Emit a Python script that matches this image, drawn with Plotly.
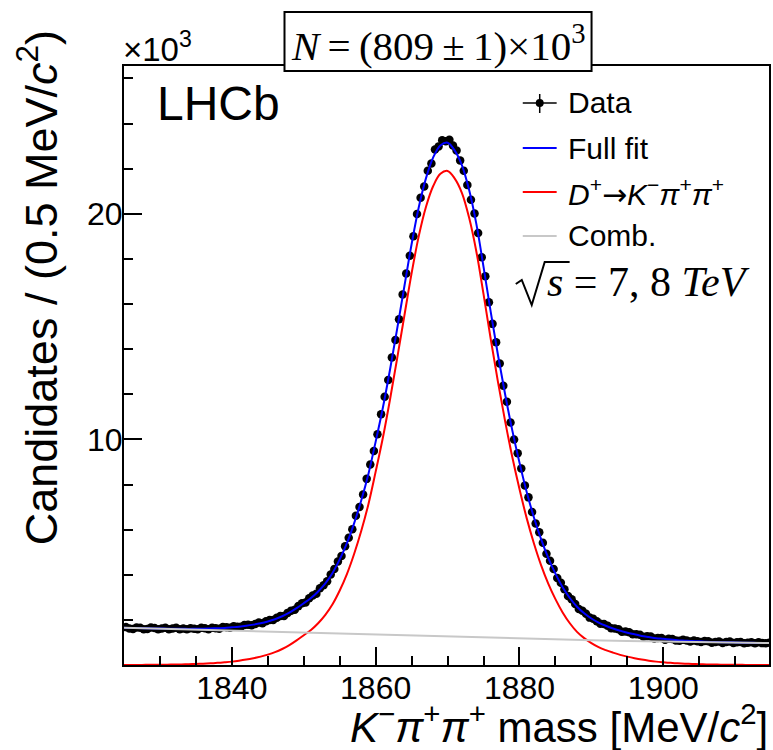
import plotly.graph_objects as go

# ---------------- data (values in units of 10^3 candidates per 0.5 MeV) -------------
bin_centres = [1825.25 + 0.5 * i for i in range(180)]
data_counts = [
    1.68, 1.62, 1.60, 1.66, 1.65, 1.58, 1.60, 1.66, 1.64, 1.59,
    1.62, 1.65, 1.58, 1.62, 1.65, 1.59, 1.62, 1.58, 1.63, 1.61,
    1.59, 1.65, 1.63, 1.59, 1.65, 1.63, 1.61, 1.68, 1.67, 1.65,
    1.72, 1.70, 1.70, 1.77, 1.78, 1.76, 1.82, 1.88, 1.85, 1.94,
    1.99, 2.00, 2.09, 2.17, 2.17, 2.31, 2.41, 2.45, 2.61, 2.74,
    2.77, 2.96, 3.08, 3.16, 3.40, 3.53, 3.71, 4.01, 4.25, 4.59,
    4.83, 5.26, 5.64, 6.02, 6.62, 7.00, 7.56, 8.25, 8.89, 9.49,
    10.23, 11.11, 11.89, 12.63, 13.63, 14.41, 15.32, 16.42, 17.35, 18.14,
    19.00, 19.99, 20.71, 21.21, 21.91, 22.23, 22.85, 22.98, 23.26, 23.22,
    23.28, 23.03, 22.80, 22.36, 21.91, 21.28, 20.62, 20.01, 19.15, 18.07,
    17.23, 16.08, 15.12, 14.31, 13.36, 12.38, 11.67, 10.75, 9.99, 9.39,
    8.71, 7.96, 7.43, 6.78, 6.27, 5.88, 5.42, 4.93, 4.62, 4.25,
    3.86, 3.65, 3.36, 3.06, 2.91, 2.70, 2.48, 2.40, 2.27, 2.10,
    2.05, 1.94, 1.83, 1.82, 1.74, 1.63, 1.62, 1.59, 1.47, 1.48,
    1.45, 1.36, 1.36, 1.34, 1.25, 1.27, 1.26, 1.18, 1.20, 1.20,
    1.12, 1.16, 1.15, 1.09, 1.08, 1.12, 1.09, 1.04, 1.09, 1.05,
    1.02, 1.06, 1.05, 0.99, 1.02, 1.04, 0.98, 1.02, 1.04, 0.98,
    1.01, 1.02, 0.96, 0.99, 1.01, 0.96, 1.01, 0.97, 0.96, 0.99,
]

curve_mass = list(range(1825, 1916))
full_fit = [
    1.65, 1.64, 1.64, 1.63, 1.62, 1.62, 1.61, 1.61, 1.61, 1.60,
    1.61, 1.61, 1.62, 1.63, 1.64, 1.67, 1.70, 1.74, 1.79, 1.85,
    1.93, 2.03, 2.16, 2.32, 2.52, 2.74, 2.97, 3.26, 3.62, 4.08,
    4.68, 5.40, 6.28, 7.30, 8.48, 9.90, 11.40, 13.10, 14.92, 16.80,
    18.66, 20.30, 21.58, 22.50, 23.03, 23.15, 22.80, 22.15, 21.05, 19.55,
    17.65, 15.65, 13.75, 12.00, 10.40, 8.97, 7.67, 6.55, 5.58, 4.75,
    4.05, 3.45, 2.97, 2.58, 2.29, 2.06, 1.88, 1.74, 1.62, 1.52,
    1.43, 1.36, 1.29, 1.24, 1.19, 1.16, 1.13, 1.10, 1.08, 1.06,
    1.05, 1.03, 1.02, 1.01, 1.01, 1.00, 0.99, 0.99, 0.98, 0.98,
    0.97,
]
signal = [
    0.002, 0.003, 0.004, 0.006, 0.008, 0.011, 0.015, 0.020, 0.027, 0.035,
    0.045, 0.06, 0.075, 0.095, 0.12, 0.15, 0.19, 0.24, 0.30, 0.37,
    0.46, 0.57, 0.71, 0.88, 1.09, 1.32, 1.55, 1.85, 2.22, 2.69,
    3.30, 4.03, 4.92, 5.95, 7.14, 8.57, 10.07, 11.78, 13.61, 15.50,
    17.37, 19.02, 20.31, 21.23, 21.77, 21.90, 21.56, 20.92, 19.82, 18.33,
    16.44, 14.45, 12.56, 10.81, 9.22, 7.80, 6.51, 5.40, 4.43, 3.61,
    2.92, 2.33, 1.85, 1.47, 1.19, 0.97, 0.79, 0.66, 0.55, 0.45,
    0.37, 0.30, 0.24, 0.19, 0.15, 0.12, 0.095, 0.075, 0.06, 0.045,
    0.035, 0.027, 0.020, 0.015, 0.011, 0.008, 0.006, 0.004, 0.003, 0.002,
    0.002,
]
bkg_mass = [1825, 1830, 1835, 1840, 1845, 1850, 1855, 1860, 1865, 1870,
            1875, 1880, 1885, 1890, 1895, 1900, 1905, 1910, 1915]
background = [1.65, 1.605, 1.56, 1.515, 1.47, 1.425, 1.38, 1.335, 1.29, 1.25,
              1.21, 1.17, 1.13, 1.095, 1.06, 1.035, 1.01, 0.99, 0.97]

x_tick_vals = [1840, 1860, 1880, 1900]
y_tick_vals = [0, 10, 20]
y_tick_text = ["", "10", "20"]

# ---------------- geometry helpers (pixel -> paper) -----------------
W, H = 773, 750
L, R, T, B = 124, 2, 66, 85
PW, PH = W - L - R, H - T - B


def px(x):
    return (x - L) / PW


def py(y):
    return (H - B - y) / PH


SANS = "Liberation Sans, Arial, Helvetica, sans-serif"
SERIF = "Liberation Serif, Times New Roman, serif"
NB = "\u00a0"
TH = "\u2009"

fig = go.Figure()
fig.add_trace(go.Scatter(x=bin_centres, y=data_counts, mode="markers",
                         marker=dict(color="black", size=8.5), cliponaxis=True))
fig.add_trace(go.Scatter(x=curve_mass, y=full_fit, mode="lines",
                         line=dict(color="#0000ff", width=2, shape="spline")))
fig.add_trace(go.Scatter(x=curve_mass, y=signal, mode="lines",
                         line=dict(color="#ff0000", width=2, shape="spline")))
fig.add_trace(go.Scatter(x=bkg_mass, y=background, mode="lines",
                         line=dict(color="#c8c8c8", width=2)))

axis_common = dict(showline=True, linecolor="black", linewidth=2, mirror=True,
                   ticks="inside", tickcolor="black", tickwidth=2, ticklen=18,
                   showgrid=False, zeroline=False,
                   tickfont=dict(family=SANS, size=32, color="black"))

fig.update_xaxes(range=[1825, 1914.7], tickmode="array", tickvals=x_tick_vals,
                 ticktext=[str(v) for v in x_tick_vals], ticklabelstandoff=-6,
                 minor=dict(dtick=5, tick0=1825, ticklen=9, tickwidth=2,
                            tickcolor="black", ticks="inside"),
                 **axis_common)
fig.update_yaxes(range=[0, 26.55], tickmode="array", tickvals=y_tick_vals,
                 ticktext=y_tick_text, ticklabelstandoff=-7,
                 minor=dict(dtick=2, tick0=0, ticklen=9, tickwidth=2,
                            tickcolor="black", ticks="inside"),
                 **axis_common)

shapes = []
annotations = []

# title box
shapes.append(dict(type="rect", xref="paper", yref="paper",
                   x0=px(285), x1=px(593), y0=py(71), y1=py(12),
                   line=dict(color="black", width=2), fillcolor="white",
                   layer="above"))
annotations.append(dict(xref="paper", yref="paper", x=px(439), y=py(43),
                        text="<i>N</i>" + TH + "=" + TH + "(809" + TH + "±" + TH + "1)×10<sup>3</sup>",
                        showarrow=False, xanchor="center", yanchor="middle",
                        font=dict(family=SERIF, size=41, color="black")))
# x10^3
annotations.append(dict(xref="paper", yref="paper", x=px(121), y=py(47),
                        text="×10<sup>3</sup>", showarrow=False,
                        xanchor="left", yanchor="middle",
                        font=dict(family=SANS, size=33, color="black")))
# LHCb
annotations.append(dict(xref="paper", yref="paper", x=px(155), y=py(104),
                        text="LHCb", showarrow=False, xanchor="left",
                        yanchor="middle",
                        font=dict(family=SANS, size=48, color="black")))
# axis titles
annotations.append(dict(xref="paper", yref="paper", x=px(772), y=py(724),
                        text="<i>K</i><sup>−</sup><i>π</i><sup>+</sup><i>π</i><sup>+</sup> mass [MeV/<i>c</i><sup>2</sup>]",
                        showarrow=False, xanchor="right", yanchor="middle",
                        font=dict(family=SANS, size=42, color="black")))
annotations.append(dict(xref="paper", yref="paper", x=px(38), y=py(288),
                        text="Candidates / (0.5 MeV/<i>c</i><sup>2</sup>)",
                        showarrow=False, textangle=-90, xanchor="center",
                        yanchor="middle",
                        font=dict(family=SANS, size=45, color="black")))

# legend
leg_x0, leg_x1, leg_tx = 524, 558, 567
ARROW = "<span style='font-family:DejaVu Sans'>→</span>"
leg_rows = [
    (103, "Data", None),
    (148, "Full fit", "#0000ff"),
    (192, "<i>D</i><sup>+</sup>" + ARROW + "<i>K</i><sup>−</sup><i>π</i><sup>+</sup><i>π</i><sup>+</sup>", "#ff0000"),
    (236, "Comb.", "#c8c8c8"),
]
for yy, label, col in leg_rows:
    if col is None:
        shapes.append(dict(type="line", xref="paper", yref="paper",
                           x0=px(leg_x0), x1=px(leg_x1), y0=py(yy), y1=py(yy),
                           line=dict(color="black", width=1.5)))
        shapes.append(dict(type="line", xref="paper", yref="paper",
                           x0=px(541), x1=px(541), y0=py(yy - 9), y1=py(yy + 10),
                           line=dict(color="black", width=1.5)))
        shapes.append(dict(type="circle", xref="paper", yref="paper",
                           x0=px(537), x1=px(545), y0=py(yy - 4), y1=py(yy + 4),
                           line=dict(color="black", width=0), fillcolor="black"))
    else:
        shapes.append(dict(type="line", xref="paper", yref="paper",
                           x0=px(leg_x0), x1=px(leg_x1), y0=py(yy), y1=py(yy),
                           line=dict(color=col, width=2)))
    annotations.append(dict(xref="paper", yref="paper", x=px(leg_tx), y=py(yy),
                            text=label, showarrow=False, xanchor="left",
                            yanchor="middle",
                            font=dict(family=SANS, size=30, color="black")))

# sqrt(s) label: radical sign drawn as a path, then the text
rad = [(517, 284), (523, 280), (533, 305), (546, 262), (571, 262)]
rad_path = "M " + " L ".join(f"{px(a)},{py(b)}" for a, b in rad)
shapes.append(dict(type="path", xref="paper", yref="paper", path=rad_path,
                   line=dict(color="black", width=2)))
annotations.append(dict(xref="paper", yref="paper", x=px(546), y=py(282),
                        text="<i>s</i>" + NB + "=" + NB + "7," + NB + "8" + NB + "<i>TeV</i>",
                        showarrow=False, xanchor="left", yanchor="middle",
                        font=dict(family=SERIF, size=42, color="black")))

fig.update_layout(width=W, height=H, margin=dict(l=L, r=R, t=T, b=B),
                  plot_bgcolor="white", paper_bgcolor="white",
                  showlegend=False, shapes=shapes, annotations=annotations)

fig.write_html("out.html")
